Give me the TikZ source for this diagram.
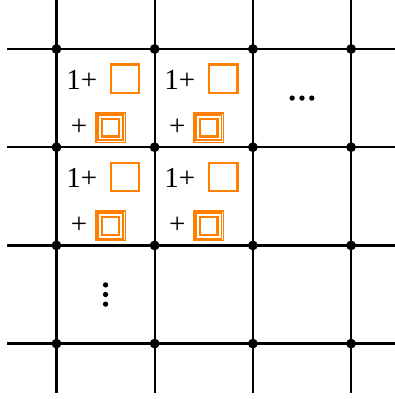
\documentclass[tikz,border=0pt]{standalone}
\usepackage{fontspec}
\setmainfont{Liberation Serif}
\begin{document}
\begin{tikzpicture}[x=1cm,y=1cm,
  gridline/.style={line width=0.65pt, black},
  vertex/.style={circle, fill=black, inner sep=0pt, minimum size=0.1cm},
  lbl/.style={font=\fontsize{8.4}{10}\selectfont, inner sep=0pt, anchor=base},
  sqone/.style={draw=orange, line width=0.65pt, minimum size=0.288cm, inner sep=0pt},
  sqouter/.style={draw=orange, line width=0.45pt, minimum size=0.3cm, inner sep=0pt},
  sqmid/.style={draw=orange, line width=0.55pt, minimum size=0.258cm, inner sep=0pt},
  sqinner/.style={draw=orange, line width=0.65pt, minimum size=0.178cm, inner sep=0pt},
  dotmark/.style={fill=black}
]
\useasboundingbox (-0.575,-0.564) rectangle (3.447,3.499);
\clip (-0.575,-0.564) rectangle (3.447,3.499);

% line end coordinates
\foreach \i in {0,1,2,3}{
  \coordinate (hl\i) at (-0.5,\i);
  \coordinate (hr\i) at (3.5,\i);
  \coordinate (vt\i) at (\i,3.5);
  \coordinate (vb\i) at (\i,-0.5);
}
\foreach \i in {0,1,2,3}{
  \draw[gridline] (hl\i) -- (hr\i);
  \draw[gridline] (vt\i) -- (vb\i);
}
\foreach \i in {0,1,2,3}{
  \foreach \j in {0,1,2,3}{
    \node[vertex] (v\i\j) at (\i,\j) {};
  }
}

% cells
\foreach \c/\r in {0/2,1/2,0/1,1/1}{
  \begin{scope}[shift={(\c,\r)}]
    \node[lbl] (one\c\r) at (0.257,0.59) {1+};
    \node[sqone] (sq\c\r) at (0.700,0.698) {};
    \node[lbl] (plus\c\r) at (0.231,0.124) {+};
    \node[sqouter] (dsa\c\r) at (0.551,0.198) {};
    \node[sqmid] (dsb\c\r) at (0.551,0.198) {};
    \node[sqinner] (dsc\c\r) at (0.551,0.198) {};
  \end{scope}
}

% ellipses
\foreach \k in {-1,0,1}{
  \fill[dotmark] (2.5+0.1*\k,2.5) circle (0.027);
  \fill[dotmark] (0.5,0.5+0.098*\k) circle (0.027);
}
\end{tikzpicture}
\end{document}
